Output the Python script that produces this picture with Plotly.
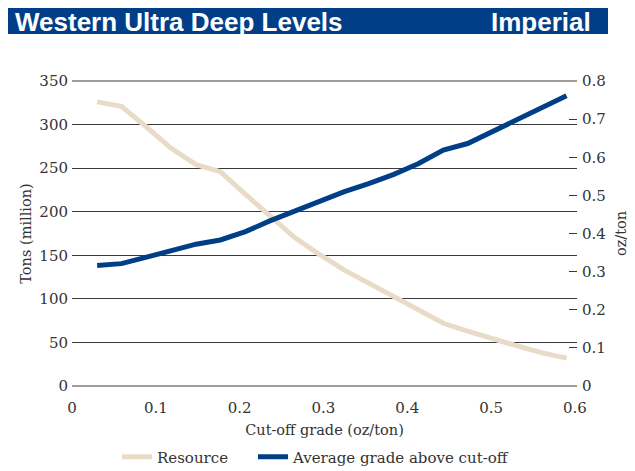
import plotly.graph_objects as go

cutoff = [0.03, 0.059, 0.089, 0.118, 0.148, 0.177, 0.207, 0.236, 0.266, 0.295,
          0.325, 0.354, 0.384, 0.413, 0.443, 0.472, 0.502, 0.531, 0.561, 0.59]
resource = [326, 321, 297, 273, 254, 246, 220, 195, 170, 151,
            133, 118, 102, 87, 72, 63, 54, 46, 38, 32]
avg_grade = [0.316, 0.321, 0.338, 0.355, 0.372, 0.383, 0.405, 0.433, 0.460, 0.484,
             0.510, 0.531, 0.555, 0.583, 0.619, 0.636, 0.667, 0.698, 0.728, 0.761]

left_ticks = [0, 50, 100, 150, 200, 250, 300, 350]
right_ticks = [0, 0.1, 0.2, 0.3, 0.4, 0.5, 0.6, 0.7, 0.8]
right_labels = ["0", "0.1", "0.2", "0.3", "0.4", "0.5", "0.6", "0.7", "0.8"]
x_ticks = [0, 0.1, 0.2, 0.3, 0.4, 0.5, 0.6]
x_labels = ["0", "0.1", "0.2", "0.3", "0.4", "0.5", "0.6"]

TAN = "#e8dcc8"
BLUE = "#003f87"
TXT = "#333333"
GRID = "#3a3a3a"
SERIF = "DejaVu Serif"

# figure is placed 8px from the page corner (default body margin)
W, H = 627, 463
L, R, T, B = 64, 569, 73, 378

fig = go.Figure()
fig.add_trace(go.Scatter(x=cutoff, y=resource, mode="lines", name="Resource",
                         line=dict(color=TAN, width=5), yaxis="y", legend="legend",
                         showlegend=True))
fig.add_trace(go.Scatter(x=cutoff, y=avg_grade, mode="lines", name="Average grade above cut-off",
                         line=dict(color=BLUE, width=5), yaxis="y2", legend="legend2",
                         showlegend=True))

def px(xp):
    return (xp - L) / (R - L)

def py(yp):
    return (B - yp) / (B - T)

tick_font = dict(family=SERIF, size=15, color=TXT)
title_font = dict(family=SERIF, size=14.5, color=TXT)
leg_font = dict(family=SERIF, size=15, color=TXT)

y_range = [left_ticks[0], left_ticks[-1]]

# gridlines at the two range ends (plotly drops grid lines at the axis edges)
edge_lines = [dict(type="line", xref="paper", yref="paper", x0=0, x1=1,
                   y0=(v - y_range[0]) / (y_range[1] - y_range[0]),
                   y1=(v - y_range[0]) / (y_range[1] - y_range[0]),
                   line=dict(color=GRID, width=1), layer="below")
              for v in y_range]

fig.update_layout(
    width=W, height=H, showlegend=True,
    margin=dict(l=L, r=W - R, t=T, b=H - B, pad=0, autoexpand=False),
    plot_bgcolor="white", paper_bgcolor="white",
    font=dict(family=SERIF, size=15, color=TXT),
    xaxis=dict(range=[0, 0.6025], tickvals=x_ticks, ticktext=x_labels,
               showgrid=False, zeroline=False, showline=False, ticks="",
               ticklabelstandoff=11, automargin=False, tickfont=tick_font,
               title=dict(text="Cut-off grade (oz/ton)", standoff=8, font=title_font)),
    yaxis=dict(range=y_range, tickvals=left_ticks, showgrid=True,
               gridcolor=GRID, gridwidth=1, zeroline=False, showline=False,
               ticks="", ticklabelstandoff=3, automargin=False, tickfont=tick_font,
               title=dict(text="Tons (million)", standoff=4, font=title_font)),
    yaxis2=dict(range=[0, 0.8], tickvals=right_ticks, ticktext=right_labels,
                overlaying="y", side="right", showgrid=False, zeroline=False,
                showline=False, ticks="inside", ticklen=8, tickwidth=1,
                tickcolor=GRID, ticklabelstandoff=4, automargin=False, tickfont=tick_font,
                title=dict(text="oz/ton", standoff=10, font=title_font)),
    legend=dict(orientation="h", x=px(109), y=py(449), xanchor="left", yanchor="middle",
                font=leg_font, bgcolor="rgba(0,0,0,0)"),
    legend2=dict(orientation="h", x=px(245), y=py(449), xanchor="left", yanchor="middle",
                 font=leg_font, bgcolor="rgba(0,0,0,0)"),
    shapes=edge_lines + [dict(type="rect", xref="paper", yref="paper",
                              x0=px(0), x1=px(600), y0=py(26), y1=py(0),
                              fillcolor=BLUE, line=dict(width=0), layer="above")],
    annotations=[
        dict(text="<b>Western Ultra Deep Levels</b>", xref="paper", yref="paper",
             x=px(5), y=py(14), xanchor="left", yanchor="middle", showarrow=False,
             font=dict(family="Liberation Sans", size=26, color="white")),
        dict(text="<b>Imperial</b>", xref="paper", yref="paper",
             x=px(585), y=py(14), xanchor="right", yanchor="middle", showarrow=False,
             font=dict(family="Liberation Sans", size=26, color="white")),
    ],
)

fig.write_html("out.html")
